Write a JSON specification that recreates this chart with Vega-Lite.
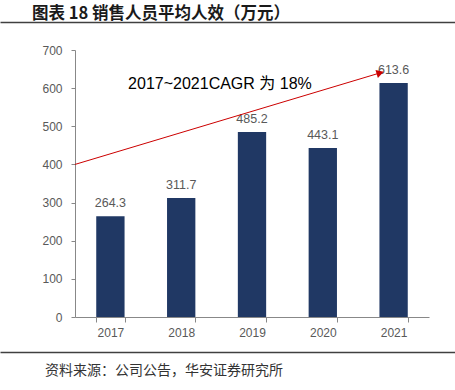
{
  "$schema": "https://vega.github.io/schema/vega-lite/v6.json",
  "padding": {"left": 0, "right": 0, "top": 5, "bottom": 8},
  "spacing": 14,
  "config": {"view": {"stroke": null}, "font": "Liberation Sans"},
  "vconcat": [
    {
      "width": 455,
      "height": 0.01,
      "title": {"text": "图表 18 销售人员平均人效（万元）", "anchor": "start", "dx": 32, "offset": 0, "fontSize": 16.5, "fontWeight": "bold", "color": "#1a1a1a", "font": "Noto Sans CJK SC"},
      "data": {"values": []},
      "mark": "text",
      "encoding": {
        "x": {"datum": 0, "type": "quantitative", "scale": {"domain": [0, 1]},
          "axis": {"orient": "bottom", "domain": true, "domainColor": "#404040", "domainWidth": 1.3, "ticks": false, "labels": false, "grid": false, "title": null}}
      }
    },
    {
      "spacing": 0,
      "hconcat": [
        {
          "width": 1,
          "height": 1,
          "data": {"values": []},
          "mark": "text",
          "encoding": {}
        },
        {
          "width": 354,
          "height": 267,
          "data": {"values": [
            {"year": "2017", "value": 264.3},
            {"year": "2018", "value": 311.7},
            {"year": "2019", "value": 485.2},
            {"year": "2020", "value": 443.1},
            {"year": "2021", "value": 613.6}
          ]},
          "encoding": {
            "y": {"field": "value", "type": "quantitative", "scale": {"domain": [0, 700], "nice": false},
              "axis": {"values": [0, 100, 200, 300, 400, 500, 600, 700], "labelOverlap": false, "grid": false, "tickSize": 4, "labelPadding": 9, "labelFontSize": 12, "labelColor": "#595959", "domainColor": "#888888", "tickColor": "#888888",
                "title": "_", "titleColor": "#ffffff", "titleX": -74, "titleY": -13, "titleAngle": 0, "titleAlign": "left", "titleBaseline": "top", "titleFontSize": 10}}
          },
          "layer": [
            {
              "mark": {"type": "bar", "color": "#203864"},
              "encoding": {
                "x": {"field": "year", "type": "nominal", "scale": {"paddingInner": 0.6, "paddingOuter": 0.3},
                  "axis": {"title": null, "labelAngle": 0, "tickBand": "extent", "tickSize": 5, "labelPadding": 5, "labelFontSize": 12, "labelColor": "#595959", "domainColor": "#888888", "tickColor": "#888888"}}
              }
            },
            {
              "mark": {"type": "text", "baseline": "bottom", "dy": -6, "fontSize": 12.5, "color": "#595959"},
              "encoding": {
                "x": {"field": "year", "type": "nominal", "scale": {"paddingInner": 0.6, "paddingOuter": 0.3}, "axis": null},
                "text": {"field": "value", "type": "quantitative", "format": ".1f"}
              }
            },
            {
              "data": {"values": [{"px": 0, "value": 400}, {"px": 4.31, "value": 640}]},
              "mark": {"type": "line", "color": "#cc0000", "strokeWidth": 1},
              "encoding": {
                "x": {"field": "px", "type": "quantitative", "scale": {"domain": [0, 5], "nice": false, "zero": false}, "axis": null}
              }
            },
            {
              "data": {"values": [{"px": 4.31, "value": 640}]},
              "mark": {"type": "point", "shape": "triangle-right", "filled": true, "color": "#cc0000", "size": 70, "angle": 343.25, "opacity": 1},
              "encoding": {
                "x": {"field": "px", "type": "quantitative", "scale": {"domain": [0, 5], "nice": false, "zero": false}, "axis": null}
              }
            },
            {
              "data": {"values": [{"px": 0.75, "value": 611, "label": "2017~2021CAGR 为 18%"}]},
              "mark": {"type": "text", "align": "left", "baseline": "middle", "fontSize": 16, "color": "#000000", "font": "Liberation Sans, Noto Sans CJK SC"},
              "encoding": {
                "x": {"field": "px", "type": "quantitative", "scale": {"domain": [0, 5], "nice": false, "zero": false}, "axis": null},
                "text": {"field": "label"}
              }
            }
          ],
          "resolve": {"scale": {"x": "independent"}, "axis": {"x": "independent"}}
        }
      ]
    },
    {
      "width": 455,
      "height": 0.01,
      "title": {"text": "资料来源：公司公告，华安证券研究所", "orient": "bottom", "anchor": "start", "dx": 45, "offset": 12, "fontSize": 14, "fontWeight": "normal", "color": "#333333", "font": "Noto Sans CJK SC"},
      "data": {"values": []},
      "mark": "text",
      "encoding": {
        "x": {"datum": 0, "type": "quantitative", "scale": {"domain": [0, 1]},
          "axis": {"orient": "top", "domain": true, "domainColor": "#404040", "domainWidth": 1.3, "ticks": false, "labels": false, "grid": false, "title": null}}
      }
    }
  ]
}
